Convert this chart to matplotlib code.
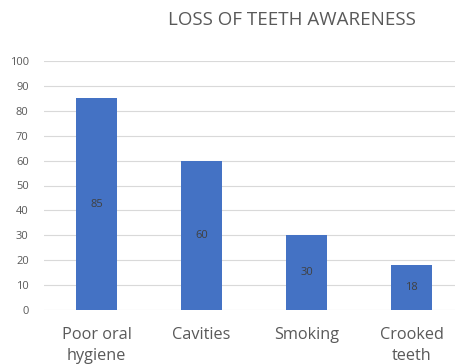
import matplotlib
matplotlib.use("Agg")
import matplotlib.pyplot as plt

categories = ["Poor oral\nhygiene", "Cavities", "Smoking", "Crooked\nteeth"]
values = [85, 60, 30, 18]
yticks = [0, 10, 20, 30, 40, 50, 60, 70, 80, 90, 100]
title = "LOSS OF TEETH AWARENESS"

plt.rcParams['font.family'] = ['Open Sans', 'DejaVu Sans']
fig = plt.figure(figsize=(4.55, 3.64), dpi=100)
ax = fig.add_axes([44/455, 1 - 310/364, 420/455, 249/364])

x = list(range(len(categories)))
bars = ax.bar(x, values, width=41/105, color="#4472C4", zorder=3)
ax.set_xlim(-0.5, len(categories) - 0.5)
ax.set_ylim(0, 100)
ax.set_yticks(yticks)
ax.set_yticklabels([str(t) for t in yticks], fontsize=8, color="#595959")
ax.set_xticks(x)
ax.set_xticklabels(categories, fontsize=11.7, color="#595959", linespacing=1.45)
ax.tick_params(axis='both', length=0)
ax.tick_params(axis='y', pad=11)
ax.tick_params(axis='x', pad=12)
ax.grid(axis='y', color="#D9D9D9", linewidth=0.8, zorder=0)
for s in ax.spines.values():
    s.set_visible(False)
for xi, v in zip(x, values):
    ax.text(xi, v / 2, str(v), ha='center', va='center', fontsize=8, color="#404040", zorder=4)

fig.text(292/455, 1 - 20/364, title, ha='center', va='center', fontsize=13.5, color="#595959")
fig.savefig("out.png", dpi=100)
